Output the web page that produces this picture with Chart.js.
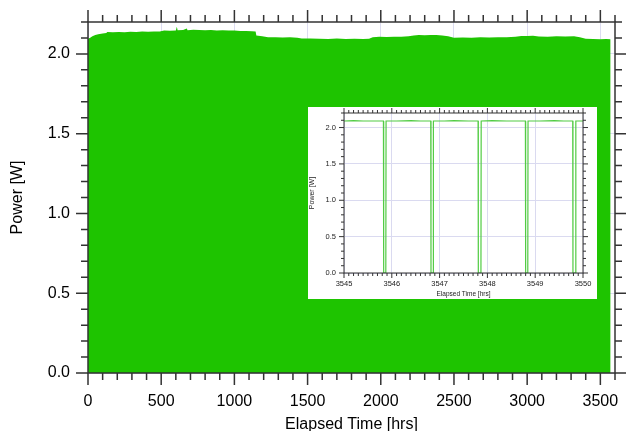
<!DOCTYPE html>
<html>
<head>
<meta charset="utf-8">
<script src="https://cdn.jsdelivr.net/npm/chart.js@4.4.1/dist/chart.umd.min.js"></script>
<style>
  body { margin: 0; background: #fff; }
  #wrap { position: relative; width: 626px; height: 431px; }
  #inset { position: absolute; left: 308px; top: 107px; background: #fff; }
</style>
</head>
<body>
<div id="wrap">
  <canvas id="mainChart" width="626" height="431"></canvas>
  <canvas id="inset" width="289" height="192"></canvas>
</div>
<script>
// whole run: upper edge of the power trace (hours, watts)
const runHours = [0, 15, 30, 50, 70, 100, 125, 132, 170, 210, 250, 290, 330, 370, 410, 450, 490,
  520, 560, 600, 607, 612, 650, 675, 680, 720, 760, 800, 840, 880, 920, 960, 1000, 1040, 1080,
  1120, 1145, 1150, 1190, 1230, 1280, 1330, 1380, 1430, 1460, 1520, 1580, 1640, 1700, 1760,
  1820, 1880, 1920, 1945, 1990, 2040, 2090, 2140, 2190, 2225, 2260, 2300, 2340, 2380, 2420,
  2460, 2500, 2560, 2620, 2680, 2740, 2800, 2860, 2920, 2960, 3000, 3040, 3080, 3140, 3200,
  3260, 3320, 3360, 3400, 3450, 3500, 3540, 3570];
const runPower = [2.095, 2.102, 2.110, 2.118, 2.124, 2.128, 2.131, 2.137, 2.135, 2.137, 2.136,
  2.139, 2.138, 2.140, 2.139, 2.141, 2.140, 2.146, 2.145, 2.147, 2.170, 2.148, 2.150, 2.160,
  2.149, 2.151, 2.150, 2.148, 2.150, 2.147, 2.148, 2.146, 2.147, 2.144, 2.143, 2.142, 2.141,
  2.115, 2.110, 2.105, 2.104, 2.103, 2.104, 2.102, 2.097, 2.096, 2.095, 2.094, 2.096, 2.094,
  2.095, 2.094, 2.095, 2.104, 2.107, 2.106, 2.108, 2.107, 2.110, 2.115, 2.118, 2.117, 2.119,
  2.118, 2.116, 2.110, 2.102, 2.103, 2.102, 2.104, 2.103, 2.104, 2.105, 2.108, 2.113, 2.112,
  2.114, 2.109, 2.108, 2.110, 2.109, 2.110, 2.104, 2.095, 2.093, 2.092, 2.093, 2.092];

// last five hours, one short off period per hour
const zoomHours = [3545.00, 3545.20, 3545.40, 3545.60, 3545.825, 3545.83, 3545.875, 3545.88,
  3546.10, 3546.40, 3546.60, 3546.815, 3546.82, 3546.865, 3546.87,
  3547.10, 3547.30, 3547.60, 3547.805, 3547.81, 3547.865, 3547.87,
  3548.10, 3548.40, 3548.60, 3548.795, 3548.80, 3548.845, 3548.85,
  3549.10, 3549.40, 3549.60, 3549.785, 3549.79, 3549.845, 3549.85, 3550.00];
const zoomPower = [2.09, 2.095, 2.09, 2.09, 2.09, 0, 0, 2.09,
  2.09, 2.095, 2.09, 2.09, 0, 0, 2.09,
  2.09, 2.095, 2.09, 2.09, 0, 0, 2.09,
  2.095, 2.09, 2.09, 2.09, 0, 0, 2.09,
  2.09, 2.095, 2.09, 2.09, 0, 0, 2.09, 2.09];

// labelled ticks
const runXTicks = [0, 500, 1000, 1500, 2000, 2500, 3000, 3500];
const zoomXTicks = [3545, 3546, 3547, 3548, 3549, 3550];
const powerTicks = [0, 0.5, 1.0, 1.5, 2.0];

Chart.defaults.font.family = "'Liberation Sans', Arial, sans-serif";
Chart.defaults.color = '#000';

// tick positions every `minor`, flagged when they land on a `major`
function tickMarks(scale, minor, major) {
  const out = [];
  const n = Math.round((scale.max - scale.min) / minor);
  for (let i = 0; i <= n; i++) {
    const v = scale.min + i * minor;
    const r = v / major;
    out.push([scale.getPixelForValue(v), Math.abs(r - Math.round(r)) < 1e-6]);
  }
  return out;
}

// box round the plot plus outward ticks on all four sides
function tickFrame(xMinor, xMajor, yMinor, yMajor, majorLen, minorLen, width) {
  return {
    id: 'tickFrame',
    afterDatasetsDraw(chart) {
      const { ctx, chartArea: a, scales } = chart;
      ctx.save();
      ctx.strokeStyle = '#333';
      ctx.lineWidth = width;
      ctx.strokeRect(a.left, a.top, a.right - a.left, a.bottom - a.top);
      ctx.beginPath();
      tickMarks(scales.x, xMinor, xMajor).forEach(([px, major]) => {
        const len = major ? majorLen : minorLen;
        ctx.moveTo(px, a.bottom); ctx.lineTo(px, a.bottom + len);
        ctx.moveTo(px, a.top); ctx.lineTo(px, a.top - len);
      });
      tickMarks(scales.y, yMinor, yMajor).forEach(([py, major]) => {
        const len = major ? majorLen : minorLen;
        ctx.moveTo(a.left, py); ctx.lineTo(a.left - len, py);
        ctx.moveTo(a.right, py); ctx.lineTo(a.right + len, py);
      });
      ctx.stroke();
      ctx.restore();
    }
  };
}

const setTicks = list => scale => { scale.ticks = list.map(v => ({ value: v })); };
// fixed axis box sizes, no extra room for overhanging labels
const fixX = h => s => { s.height = h; s.paddingLeft = 0; s.paddingRight = 0; };
const fixY = w => s => { s.width = w; s.paddingTop = 0; s.paddingBottom = 0; };

new Chart(document.getElementById('mainChart'), {
  type: 'line',
  data: {
    datasets: [{
      data: runHours.map((h, i) => ({ x: h, y: runPower[i] })),
      fill: 'origin',
      backgroundColor: '#1ec400',
      borderWidth: 0,
      pointRadius: 0,
      tension: 0
    }]
  },
  options: {
    responsive: false,
    animation: false,
    layout: { padding: { top: 22, right: 11, left: 0, bottom: 0 } },
    plugins: { legend: { display: false }, tooltip: { enabled: false } },
    scales: {
      x: {
        type: 'linear', min: 0, max: 3600,
        afterBuildTicks: setTicks(runXTicks),
        afterFit: fixX(58),
        grid: { color: '#dcdcf0', drawTicks: false },
        border: { display: false },
        ticks: { padding: 19, maxRotation: 0, autoSkip: false, font: { size: 16 }, callback: v => String(v) },
        title: { display: true, text: 'Elapsed Time [hrs]', font: { size: 16, lineHeight: 1 }, padding: { top: 0, bottom: -2 } }
      },
      y: {
        min: 0, max: 2.2,
        afterBuildTicks: setTicks(powerTicks),
        afterFit: fixY(88),
        grid: { color: '#dcdcf0', drawTicks: false },
        border: { display: false },
        ticks: { padding: 18, font: { size: 16 }, callback: v => v.toFixed(1) },
        title: { display: true, text: 'Power [W]', font: { size: 16, lineHeight: 1 }, padding: { top: 10, bottom: 0 } }
      }
    }
  },
  plugins: [tickFrame(100, 500, 0.1, 0.5, 12, 7, 1.5)]
});

new Chart(document.getElementById('inset'), {
  type: 'line',
  data: {
    datasets: [{
      data: zoomHours.map((h, i) => ({ x: h, y: zoomPower[i] })),
      borderColor: '#52cc44',
      borderWidth: 1.2,
      pointRadius: 0,
      tension: 0,
      fill: false
    }]
  },
  options: {
    responsive: false,
    animation: false,
    layout: { padding: { top: 6, right: 14, left: 0, bottom: 0 } },
    plugins: { legend: { display: false }, tooltip: { enabled: false } },
    scales: {
      x: {
        type: 'linear', min: 3545, max: 3550,
        afterBuildTicks: setTicks(zoomXTicks),
        afterFit: fixX(26),
        grid: { color: '#dadaf0', drawTicks: false },
        border: { display: false },
        ticks: { padding: 6, maxRotation: 0, autoSkip: false, font: { size: 7.5 }, color: '#222', callback: v => String(v) },
        title: { display: true, text: 'Elapsed Time [hrs]', font: { size: 6.5, lineHeight: 1 }, color: '#222', padding: { top: 0, bottom: 1.5 } }
      },
      y: {
        min: 0, max: 2.2,
        afterBuildTicks: setTicks(powerTicks),
        afterFit: fixY(36),
        grid: { color: '#dadaf0', drawTicks: false },
        border: { display: false },
        ticks: { padding: 8, font: { size: 7.5 }, color: '#222', callback: v => v.toFixed(1) },
        title: { display: true, text: 'Power [W]', font: { size: 7, lineHeight: 1 }, color: '#222', padding: { top: 0.5, bottom: 0 } }
      }
    }
  },
  plugins: [tickFrame(0.1, 1, 0.1, 0.5, 5, 3, 1)]
});
</script>
</body>
</html>
